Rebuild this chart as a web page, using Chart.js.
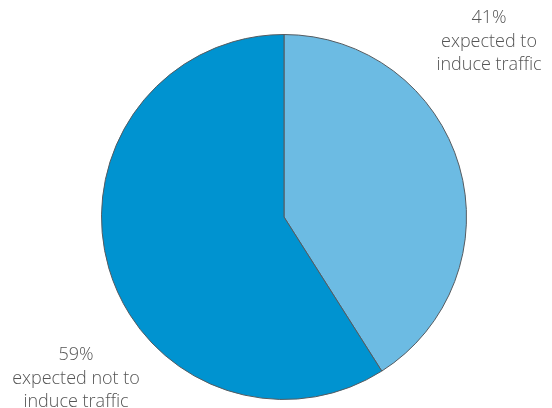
<!DOCTYPE html>
<html>
<head>
<meta charset="utf-8">
<script src="https://cdn.jsdelivr.net/npm/chart.js@4"></script>
<style>
  html, body { margin: 0; padding: 0; background: #fff; }
  #wrap { width: 552px; height: 408px; position: relative; }
</style>
</head>
<body>
<div id="wrap"><canvas id="pieChart" width="552" height="408"></canvas></div>
<script>
const categories = ["expected to induce traffic", "expected not to induce traffic"];
const shares = [41, 59];
const sliceColors = ["#6cbbe3", "#0093d0"];
const labelLines = [
    ["41%", "expected to", "induce traffic"],
    ["59%", "expected not to", "induce traffic"]
];

// text blocks placed at the corners, like the original
const cornerLabels = {
    id: "cornerLabels",
    afterDraw(chart) {
        const c = chart.ctx;
        c.save();
        c.fillStyle = "#555555";
        c.font = "300 18px 'Open Sans', 'Liberation Sans', sans-serif";
        c.textAlign = "center";
        c.textBaseline = "middle";
        const spots = [[489, 18], [76, 355]];
        labelLines.forEach((lines, i) => {
            lines.forEach((txt, j) => {
                c.fillText(txt, spots[i][0], spots[i][1] + j * 23.5);
            });
        });
        c.restore();
    }
};

new Chart(document.getElementById("pieChart"), {
    type: "pie",
    data: {
        labels: categories,
        datasets: [{
            data: shares,
            backgroundColor: sliceColors,
            borderColor: "#555b60",
            borderWidth: 1
        }]
    },
    options: {
        responsive: false,
        animation: false,
        layout: { padding: { top: 34, bottom: 8, left: 101, right: 85 } },
        plugins: {
            legend: { display: false },
            tooltip: { enabled: false }
        }
    },
    plugins: [cornerLabels]
});
</script>
</body>
</html>
